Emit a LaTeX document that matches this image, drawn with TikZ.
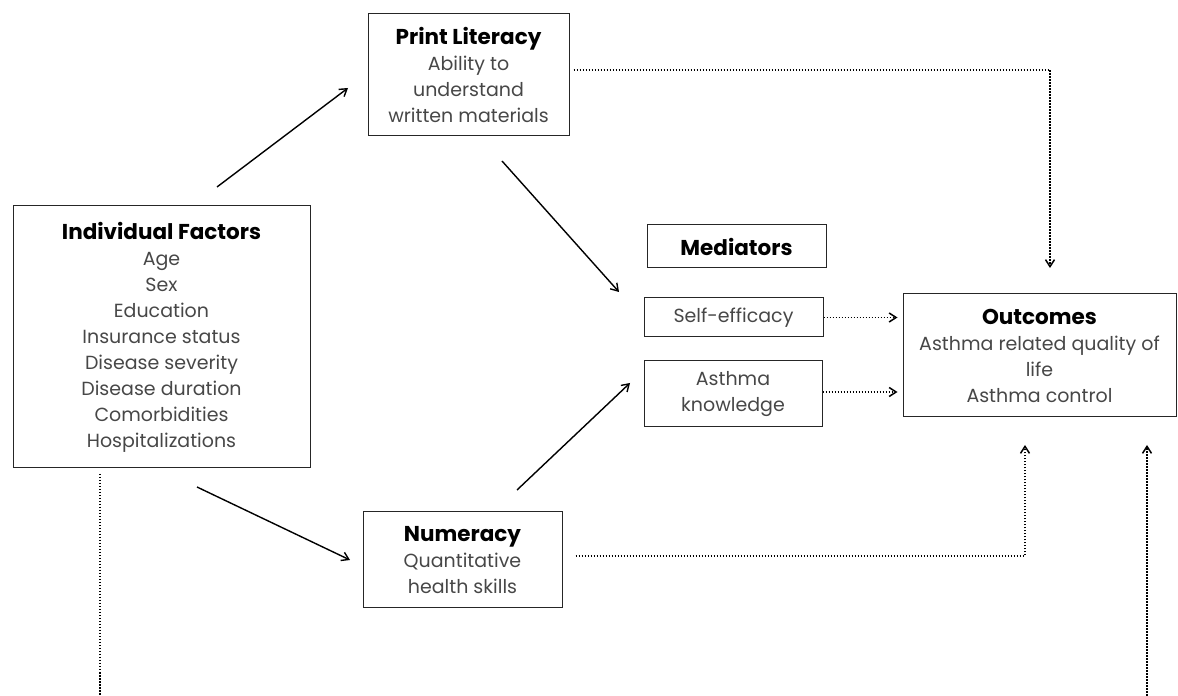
\documentclass[tikz,border=0pt]{standalone}
\usepackage{fontspec}
\setmainfont{Poppins}
\usetikzlibrary{arrows.meta}
\begin{document}
\begin{tikzpicture}[x=1pt,y=1pt,
  box/.style={draw=black!85, line width=1pt, align=center, inner sep=0pt,
    font=\fontsize{19}{26}\selectfont, text=black!72},
  solidarrow/.style={line width=1.4pt, -{Straight Barb[length=7pt,width=9pt]}},
  dotarrow/.style={line width=1.5pt, dash pattern=on 1.5pt off 1.5pt, -{Straight Barb[length=7pt,width=9pt]}},
  dotline/.style={line width=1.5pt, dash pattern=on 1.5pt off 1.5pt}]
\useasboundingbox (0,0) rectangle (1178,696);
\newcommand{\hd}[1]{\textcolor{black}{\fontsize{21.5}{26}\selectfont\bfseries #1}}

\node[box, minimum width=201pt, minimum height=122pt] (pl) at (468.5,621)
  {\hd{Print Literacy}\\Ability to\\understand\\written materials};
\node[box, minimum width=297pt, minimum height=262pt] (ind) at (161.5,359)
  {\hd{Individual Factors}\\Age\\Sex\\Education\\Insurance status\\Disease severity\\Disease duration\\Comorbidities\\Hospitalizations};
\node[box, minimum width=179pt, minimum height=43pt] (med) at (736.5,449.5)
  {\hd{Mediators}};
\node[box, minimum width=179pt, minimum height=39pt] (se) at (733.5,378.5)
  {Self-efficacy};
\node[box, minimum width=178pt, minimum height=66pt] (ak) at (733,302)
  {Asthma\\knowledge};
\node[box, minimum width=273pt, minimum height=123pt] (out) at (1039.5,340.5)
  {\hd{Outcomes}\\Asthma related quality of\\life\\Asthma control};
\node[box, minimum width=199pt, minimum height=96pt] (num) at (462.5,136)
  {\hd{Numeracy}\\Quantitative\\health skills};

% free ends of the floating arrows
\coordinate (a1s) at (217,509); \coordinate (a1e) at (348,608);
\coordinate (a2s) at (502,535); \coordinate (a2e) at (619,404);
\coordinate (a3s) at (197,209); \coordinate (a3e) at (350,136);
\coordinate (a4s) at (517,206); \coordinate (a4e) at (630,313);
\coordinate (pltip) at (1050,428);
\coordinate (numtip) at (1025,251);
\coordinate (bottip) at (1147,251);
\coordinate (botR) at (1147,0);
\coordinate (indS) at (100,222);
\coordinate (botL) at (100,0);

\draw[solidarrow] (a1s) -- (a1e);
\draw[solidarrow] (a2s) -- (a2e);
\draw[solidarrow] (a3s) -- (a3e);
\draw[solidarrow] (a4s) -- (a4e);

\draw[dotarrow] ([xshift=4pt,yshift=5pt]pl.east) -| (pltip);
\draw[dotarrow] (se.east) -- ([xshift=-5pt]se.east -| out.west);
\draw[dotarrow] ([yshift=2pt]ak.east) -- ([xshift=-5pt,yshift=2pt]ak.east -| out.west);
\draw[dotarrow] ([xshift=13pt,yshift=4pt]num.east) -| (numtip);
\draw[dotarrow] (botR) -- (bottip);
\draw[dotline] (indS) -- (botL);
\end{tikzpicture}
\end{document}
